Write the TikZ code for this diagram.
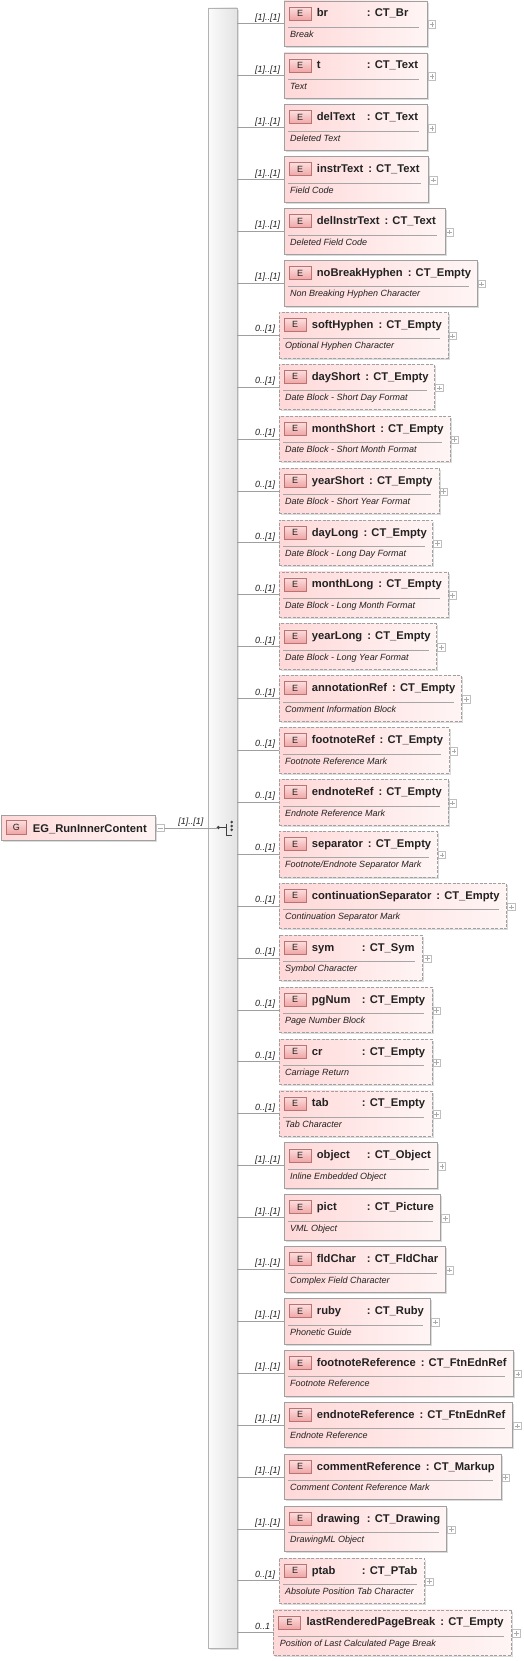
\documentclass[tikz,border=0pt]{standalone}
\usepackage{fontspec}
\setmainfont{Liberation Sans}
\usetikzlibrary{calc,shadows}
\definecolor{pinkL}{RGB}{255,216,216}
\definecolor{pinkR}{RGB}{255,245,245}
\definecolor{bordergray}{RGB}{160,160,160}
\definecolor{txt}{RGB}{34,34,34}
\definecolor{badgeT}{RGB}{252,222,222}
\definecolor{badgeB}{RGB}{240,165,165}
\definecolor{badgeBorder}{RGB}{185,115,115}
\newsavebox\elnamebox
\newcommand\elname[2]{\sbox\elnamebox{#1\hspace{5pt}}\ifdim\wd\elnamebox<50pt\makebox[50pt][l]{#1}\else\usebox\elnamebox\fi: #2}
\tikzset{
  boxbase/.style={rectangle, inner sep=0pt, outer sep=0pt, minimum height=45.5pt,
    left color=pinkL, right color=pinkR,
    drop shadow={shadow xshift=1.6pt, shadow yshift=-1.6pt, opacity=0.14, fill=black}},
  solidbox/.style={boxbase, draw=bordergray, line width=0.7pt},
  dashbox/.style={boxbase, draw=bordergray, line width=0.7pt, dash pattern=on 3pt off 1.5pt},
  ebadge/.style={rectangle, inner sep=0pt, outer sep=0pt, minimum width=22pt, minimum height=13pt,
    top color=badgeT, bottom color=badgeB, draw=badgeBorder, line width=0.6pt,
    font=\fontsize{9}{9}\selectfont, text=txt},
  nametext/.style={inner sep=0pt, font=\fontsize{11.2}{12}\selectfont\bfseries, text=txt},
  desctext/.style={inner sep=0pt, font=\fontsize{9}{10}\selectfont\itshape, text=txt},
  multtext/.style={inner sep=0pt, font=\fontsize{9}{10}\selectfont\itshape, text=txt},
  sepline/.style={draw=gray!70, line width=0.6pt},
  conn/.style={draw=gray!75, line width=0.7pt},
  plusbox/.style={rectangle, inner sep=0pt, outer sep=0pt, minimum width=7.5pt, minimum height=7.5pt,
    draw=gray!50, fill=white, line width=0.5pt},
  plusline/.style={draw=gray!65, line width=0.5pt},
  seqbar/.style={rectangle, inner sep=0pt, outer sep=0pt, draw=gray!60, line width=0.7pt,
    left color=gray!3, right color=gray!22,
    drop shadow={shadow xshift=1.6pt, shadow yshift=-1.6pt, opacity=0.12, fill=black}},
  seqicon/.style={draw=black!75, line width=0.8pt},
}
% #1 idx, #2 left, #3 right, #4 style, #5 name, #6 type, #7 desc, #8 multiplicity
\newcommand\elem[8]{%
  \pgfmathsetmacro\elT{1+51.9*(#1-1)}%
  \pgfmathsetmacro\elW{#3-#2}%
  \node[#4, minimum width=\elW pt, anchor=north west] (e#1) at (#2,\elT) {};
  \node[ebadge, anchor=north west] (b#1) at ($(e#1.north west)+(5,6)$) {E};
  \node[nametext, anchor=base west] (n#1) at ($(e#1.north west)+(32.7,16)$) {\elname{#5}{#6}};
  \draw[sepline] ($(e#1.north west)+(4.3,26.3)$) -- ($(e#1.north east)+(-8,26.3)$);
  \node[desctext, anchor=base west] (d#1) at ($(e#1.north west)+(6,36.5)$) {#7};
  \node[plusbox] (p#1) at ($(e#1.north east)+(4.5,23.5)$) {};
  \draw[plusline] ($(p#1.center)+(-2.3,0)$) -- ($(p#1.center)+(2.3,0)$)
                  ($(p#1.center)+(0,-2.3)$) -- ($(p#1.center)+(0,2.3)$);
  \draw[conn] (seq.east |- e#1.west) -- (e#1.west);
  \node[multtext, anchor=base west] (m#1) at ($(seq.east |- e#1.west)+(18,-3.4)$) {#8};
}
\begin{document}
\begin{tikzpicture}[x=1pt,y=-1pt]
\useasboundingbox (0,0) rectangle (523,1661);
% sequence bar
\node[seqbar, minimum width=29pt, minimum height=1640pt, anchor=north west] (seq) at (208,8) {};
% sequence icon
\coordinate (sqdot) at ($(seq.center)+(-4.2,-0.5)$);
\coordinate (sqv) at ($(seq.center)+(4,-0.5)$);
\draw[seqicon] (sqdot) -- (sqv);
\draw[seqicon] ($(seq.center)+(4,-4.5)$) -- ($(seq.center)+(4,7.3)$) -- ($(seq.center)+(9.5,7.3)$);
\fill[black!75] (sqdot) circle (1.8);
\foreach \dy in {-6,-2,1.8}{
  \fill[black!75] ($(seq.center)+(9.2,\dy)$) circle (1.45);
}
% group node
\node[solidbox, minimum width=154pt, minimum height=25.7pt, anchor=north west] (g) at (1.7,815) {};
\node[ebadge, minimum width=20.7pt, minimum height=13.3pt, anchor=north west] (gb) at ($(g.north west)+(4.3,5.7)$) {G};
\node[nametext, anchor=base west] (gt) at ($(g.north west)+(31,17)$) {EG\_RunInnerContent};
\node[plusbox] (gm) at ($(g.east)+(4.6,0)$) {};
\draw[plusline] ($(gm.center)+(-2.3,0)$) -- ($(gm.center)+(2.3,0)$);
\draw[conn] (gm.east) -- (gm.east -| sqdot);
\node[multtext, anchor=base west] (gml) at ($(gm.east)+(14,-3.4)$) {[1]..[1]};
% children
\elem{1}{284}{427.3}{solidbox}{br}{CT\_Br}{Break}{[1]..[1]}
\elem{2}{284}{427.3}{solidbox}{t}{CT\_Text}{Text}{[1]..[1]}
\elem{3}{284}{427.3}{solidbox}{delText}{CT\_Text}{Deleted Text}{[1]..[1]}
\elem{4}{284}{428.7}{solidbox}{instrText}{CT\_Text}{Field Code}{[1]..[1]}
\elem{5}{284}{445}{solidbox}{delInstrText}{CT\_Text}{Deleted Field Code}{[1]..[1]}
\elem{6}{284}{477}{solidbox}{noBreakHyphen}{CT\_Empty}{Non Breaking Hyphen Character}{[1]..[1]}
\elem{7}{279}{448}{dashbox}{softHyphen}{CT\_Empty}{Optional Hyphen Character}{0..[1]}
\elem{8}{279}{434.7}{dashbox}{dayShort}{CT\_Empty}{Date Block - Short Day Format}{0..[1]}
\elem{9}{279}{450}{dashbox}{monthShort}{CT\_Empty}{Date Block - Short Month Format}{0..[1]}
\elem{10}{279}{439}{dashbox}{yearShort}{CT\_Empty}{Date Block - Short Year Format}{0..[1]}
\elem{11}{279}{432.7}{dashbox}{dayLong}{CT\_Empty}{Date Block - Long Day Format}{0..[1]}
\elem{12}{279}{448}{dashbox}{monthLong}{CT\_Empty}{Date Block - Long Month Format}{0..[1]}
\elem{13}{279}{436.7}{dashbox}{yearLong}{CT\_Empty}{Date Block - Long Year Format}{0..[1]}
\elem{14}{279}{461.7}{dashbox}{annotationRef}{CT\_Empty}{Comment Information Block}{0..[1]}
\elem{15}{279}{449.3}{dashbox}{footnoteRef}{CT\_Empty}{Footnote Reference Mark}{0..[1]}
\elem{16}{279}{448}{dashbox}{endnoteRef}{CT\_Empty}{Endnote Reference Mark}{0..[1]}
\elem{17}{279}{437.3}{dashbox}{separator}{CT\_Empty}{Footnote/Endnote Separator Mark}{0..[1]}
\elem{18}{279}{506.7}{dashbox}{continuationSeparator}{CT\_Empty}{Continuation Separator Mark}{0..[1]}
\elem{19}{279}{422.7}{dashbox}{sym}{CT\_Sym}{Symbol Character}{0..[1]}
\elem{20}{279}{432}{dashbox}{pgNum}{CT\_Empty}{Page Number Block}{0..[1]}
\elem{21}{279}{432}{dashbox}{cr}{CT\_Empty}{Carriage Return}{0..[1]}
\elem{22}{279}{432}{dashbox}{tab}{CT\_Empty}{Tab Character}{0..[1]}
\elem{23}{284}{437.3}{solidbox}{object}{CT\_Object}{Inline Embedded Object}{[1]..[1]}
\elem{24}{284}{440.7}{solidbox}{pict}{CT\_Picture}{VML Object}{[1]..[1]}
\elem{25}{284}{445}{solidbox}{fldChar}{CT\_FldChar}{Complex Field Character}{[1]..[1]}
\elem{26}{284}{430.7}{solidbox}{ruby}{CT\_Ruby}{Phonetic Guide}{[1]..[1]}
\elem{27}{284}{513.3}{solidbox}{footnoteReference}{CT\_FtnEdnRef}{Footnote Reference}{[1]..[1]}
\elem{28}{284}{512.7}{solidbox}{endnoteReference}{CT\_FtnEdnRef}{Endnote Reference}{[1]..[1]}
\elem{29}{284}{501}{solidbox}{commentReference}{CT\_Markup}{Comment Content Reference Mark}{[1]..[1]}
\elem{30}{284}{446.7}{solidbox}{drawing}{CT\_Drawing}{DrawingML Object}{[1]..[1]}
\elem{31}{279}{424.7}{dashbox}{ptab}{CT\_PTab}{Absolute Position Tab Character}{0..[1]}
\elem{32}{273.7}{511.7}{dashbox}{lastRenderedPageBreak}{CT\_Empty}{Position of Last Calculated Page Break}{0..1}
\end{tikzpicture}
\end{document}
